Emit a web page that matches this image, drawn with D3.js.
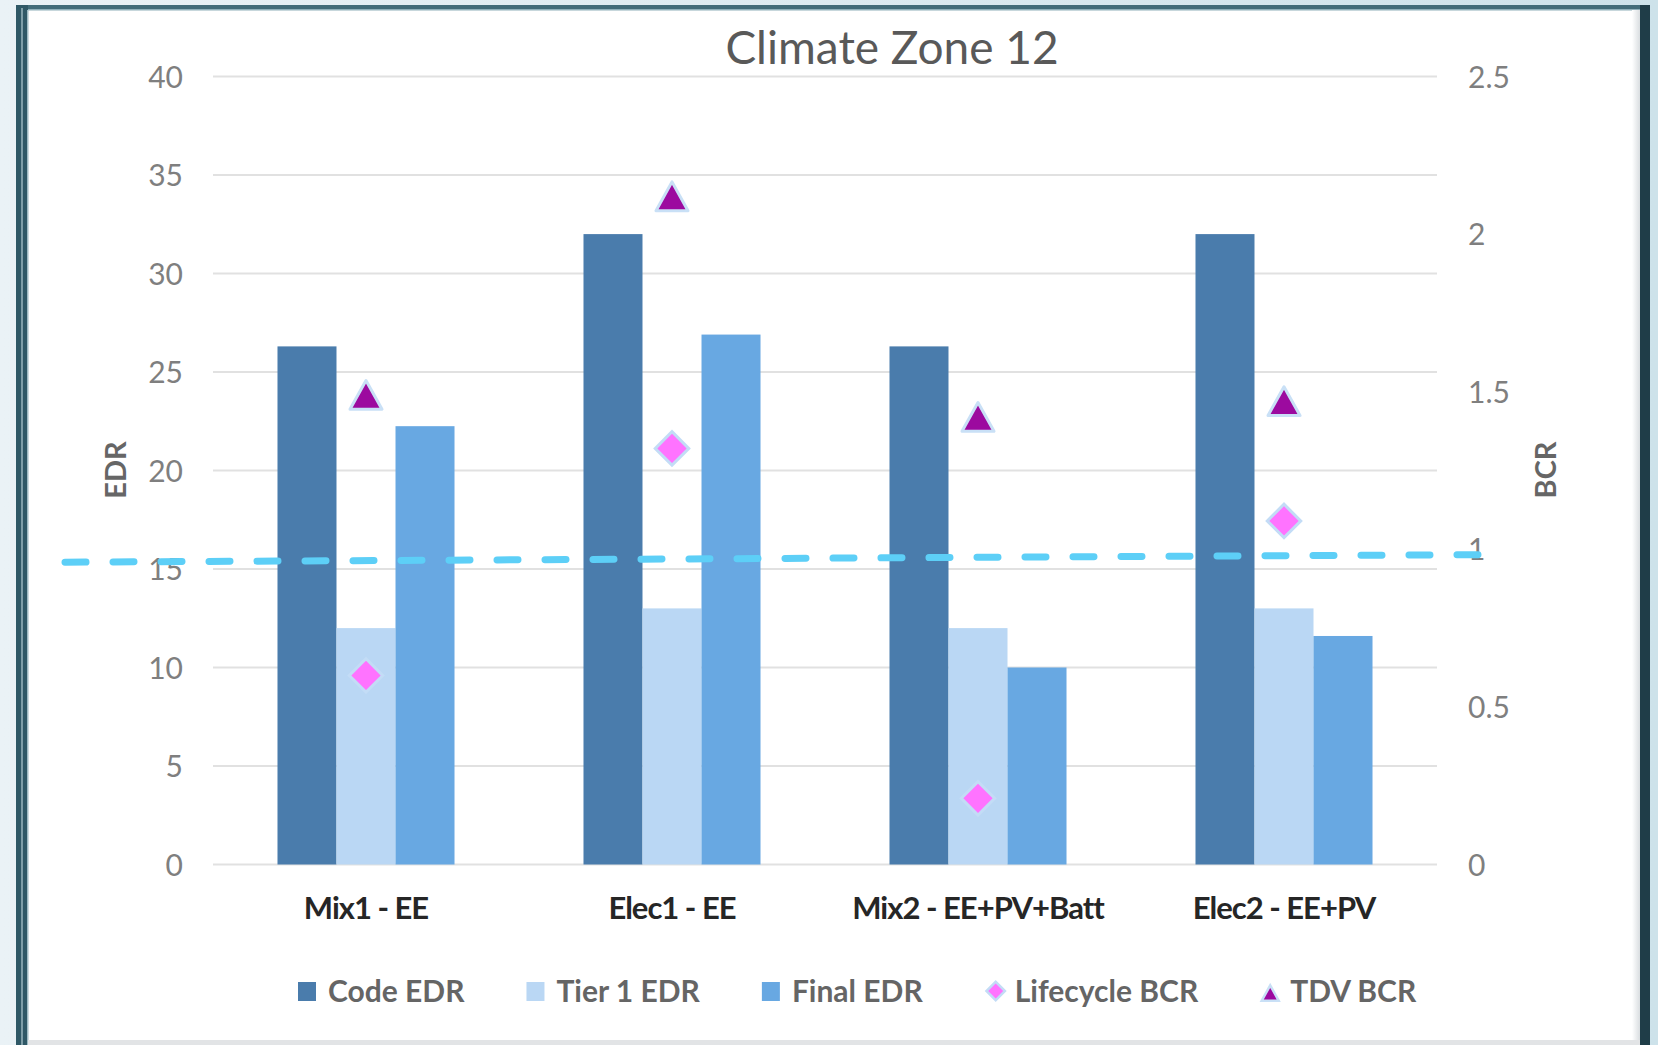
<!DOCTYPE html>
<html>
<head>
<meta charset="utf-8">
<script src="https://cdn.jsdelivr.net/npm/d3@7"></script>
<style>
  html, body { margin: 0; padding: 0; background: #e4eef2; }
  svg { display: block; }
</style>
</head>
<body>
<svg id="chart" width="1658" height="1045"></svg>
<script>
// ---------- data ----------
const categories = ["Mix1 - EE", "Elec1 - EE", "Mix2 - EE+PV+Batt", "Elec2 - EE+PV"];
const seriesNames = ["Code EDR", "Tier 1 EDR", "Final EDR"];
const codeEDR = [26.3, 32.0, 26.3, 32.0];
const tier1EDR = [12.0, 13.0, 12.0, 13.0];
const finalEDR = [22.25, 26.9, 10.0, 11.6];
const lifecycleBCR = [0.60, 1.32, 0.21, 1.09];
const tdvBCR = [1.49, 2.12, 1.42, 1.47];
const edrTicks = [0, 5, 10, 15, 20, 25, 30, 35, 40];
const bcrTicks = [0, 0.5, 1, 1.5, 2, 2.5];
const bcrTickLabels = ["0", "0.5", "1", "1.5", "2", "2.5"];
const thresholdBCR = [0.959, 0.983]; // hand-drawn dashed line (left end, right end)
const title = "Climate Zone 12";

const colors = {
  "Code EDR": "#4a7cac",
  "Tier 1 EDR": "#bad7f4",
  "Final EDR": "#68a8e2",
  "Lifecycle BCR": "#ff73ff",
  "TDV BCR": "#9c0a9f"
};

// ---------- layout ----------
const svg = d3.select("#chart");
const W = 1658, H = 1045;
const plot = { left: 213, right: 1437, top: 76.5, bottom: 864.5 };
const font = "Lato, 'Open Sans', sans-serif";

// background & frame
const defs = svg.append("defs");
const bg = defs.append("linearGradient").attr("id", "bg").attr("x1", 0).attr("x2", 1).attr("y1", 0).attr("y2", 0);
bg.append("stop").attr("offset", "0%").attr("stop-color", "#eaf2f6");
bg.append("stop").attr("offset", "100%").attr("stop-color", "#cde2ea");
svg.append("rect").attr("width", W).attr("height", H).attr("fill", "url(#bg)");

// card
svg.append("rect").attr("x", 20).attr("y", 8).attr("width", 1626).attr("height", 1033).attr("fill", "#ffffff");
// top border
svg.append("rect").attr("x", 16).attr("y", 5).attr("width", 1634).attr("height", 5).attr("fill", "#426c79");
svg.append("rect").attr("x", 16).attr("y", 9).attr("width", 1624).attr("height", 1.5).attr("fill", "#8fb0ba");
// left border
svg.append("rect").attr("x", 16).attr("y", 5).attr("width", 12).attr("height", 1040).attr("fill", "#2f5866");
svg.append("rect").attr("x", 21).attr("y", 8).attr("width", 2).attr("height", 1037).attr("fill", "#7e9ea8");
svg.append("rect").attr("x", 27).attr("y", 10).attr("width", 1.5).attr("height", 1035).attr("fill", "#9dbac2");
// right border
const rg = defs.append("linearGradient").attr("id", "rshade").attr("x1", 0).attr("x2", 1);
rg.append("stop").attr("offset", "0%").attr("stop-color", "#ffffff");
rg.append("stop").attr("offset", "100%").attr("stop-color", "#d9dde0");
svg.append("rect").attr("x", 1632).attr("y", 10).attr("width", 8).attr("height", 1035).attr("fill", "url(#rshade)");
svg.append("rect").attr("x", 1640).attr("y", 5).attr("width", 10).attr("height", 1040).attr("fill", "#1f3d48");
// bottom shadow
svg.append("rect").attr("x", 28).attr("y", 1040).attr("width", 1612).attr("height", 5).attr("fill", "#e2e4e6");

// ---------- scales ----------
const x = d3.scaleBand().domain(categories).range([plot.left, plot.right]).paddingInner(0).paddingOuter(0);
const xSub = d3.scaleBand().domain(seriesNames).range([0, x.bandwidth()]).paddingInner(0).paddingOuter(1.093);
const yEDR = d3.scaleLinear().domain([0, 40]).range([plot.bottom, plot.top]);
const yBCR = d3.scaleLinear().domain([0, 2.5]).range([plot.bottom, plot.top]);

// gridlines
svg.append("g").selectAll("line").data(edrTicks).join("line")
  .attr("x1", plot.left).attr("x2", plot.right)
  .attr("y1", d => yEDR(d)).attr("y2", d => yEDR(d))
  .attr("stroke", "#e1e1e1").attr("stroke-width", 2);

// left axis
const leftAxis = svg.append("g").attr("transform", `translate(${plot.left},0)`)
  .call(d3.axisLeft(yEDR).tickValues(edrTicks).tickSize(0).tickPadding(30).tickFormat(d3.format("d")));
leftAxis.select(".domain").remove();
leftAxis.selectAll("text").attr("font-family", font).attr("font-size", 30).attr("fill", "#7f7f7f").attr("dy", "0.35em");

// right axis
const rightAxis = svg.append("g").attr("transform", `translate(${plot.right},0)`)
  .call(d3.axisRight(yBCR).tickValues(bcrTicks).tickSize(0).tickPadding(31).tickFormat((d, i) => bcrTickLabels[i]));
rightAxis.select(".domain").remove();
rightAxis.selectAll("text").attr("font-family", font).attr("font-size", 30).attr("fill", "#7f7f7f").attr("dy", "0.35em");

// bars
const barData = categories.map((c, i) => ({
  cat: c,
  vals: [
    { s: "Code EDR", v: codeEDR[i] },
    { s: "Tier 1 EDR", v: tier1EDR[i] },
    { s: "Final EDR", v: finalEDR[i] }
  ]
}));
const groups = svg.append("g").selectAll("g").data(barData).join("g")
  .attr("transform", d => `translate(${x(d.cat)},0)`);
groups.selectAll("rect").data(d => d.vals).join("rect")
  .attr("x", d => xSub(d.s))
  .attr("width", xSub.bandwidth())
  .attr("y", d => yEDR(d.v))
  .attr("height", d => yEDR(0) - yEDR(d.v))
  .attr("fill", d => colors[d.s]);

// x axis labels
const bottomAxis = svg.append("g").attr("transform", `translate(0,${plot.bottom})`)
  .call(d3.axisBottom(x).tickSize(0).tickPadding(32));
bottomAxis.select(".domain").remove();
bottomAxis.selectAll("text").attr("font-family", font).attr("font-size", 31).attr("font-weight", "bold")
  .attr("fill", "#262626").attr("letter-spacing", "-1px");

// dashed threshold line (hand drawn, extends beyond plot)
const lineData = [
  { px: plot.left - 148, b: thresholdBCR[0] },
  { px: plot.right + 44, b: thresholdBCR[1] }
];
svg.append("path")
  .datum(lineData)
  .attr("d", d3.line().x(d => d.px).y(d => yBCR(d.b)))
  .attr("fill", "none").attr("stroke", "#5dcff7").attr("stroke-width", 7)
  .attr("stroke-linecap", "round").attr("stroke-dasharray", "21 27");

// markers
const cx = c => x(c) + x.bandwidth() / 2;
function triPath(s) {
  const h = s * 0.9;
  return `M0,${-h / 2}L${s / 2},${h / 2}L${-s / 2},${h / 2}Z`;
}
const mk = svg.append("g");
mk.selectAll("path.tdv").data(categories).join("path").attr("class", "tdv")
  .attr("d", triPath(32))
  .attr("transform", (c, i) => `translate(${cx(c)},${yBCR(tdvBCR[i])})`)
  .attr("fill", colors["TDV BCR"]).attr("stroke", "#c9e0f6").attr("stroke-width", 3).attr("stroke-linejoin", "round");
mk.selectAll("path.lc").data(categories).join("path").attr("class", "lc")
  .attr("d", d3.symbol().type(d3.symbolSquare).size(560)())
  .attr("transform", (c, i) => `translate(${cx(c)},${yBCR(lifecycleBCR[i])}) rotate(45)`)
  .attr("fill", colors["Lifecycle BCR"]).attr("stroke", "#c3dcf6").attr("stroke-width", 3);

// title
svg.append("text").attr("x", 892).attr("y", 64).attr("text-anchor", "middle")
  .attr("font-family", font).attr("font-size", 46).attr("fill", "#595959").text(title);

// axis titles
svg.append("text").attr("transform", "translate(126,470) rotate(-90)").attr("text-anchor", "middle")
  .attr("font-family", font).attr("font-size", 29).attr("font-weight", "bold").attr("fill", "#666666").text("EDR");
svg.append("text").attr("transform", "translate(1556,470) rotate(-90)").attr("text-anchor", "middle")
  .attr("font-family", font).attr("font-size", 29).attr("font-weight", "bold").attr("fill", "#666666").text("BCR");

// legend
const legendItems = ["Code EDR", "Tier 1 EDR", "Final EDR", "Lifecycle BCR", "TDV BCR"];
const legend = svg.append("g");
let lx = 298;
const ly = 991;
legendItems.forEach((name, i) => {
  const g = legend.append("g").attr("transform", `translate(${lx},${ly})`);
  if (i < 3) {
    g.append("rect").attr("x", 0).attr("y", -9).attr("width", 18).attr("height", 19).attr("fill", colors[name]);
  } else if (i === 3) {
    g.append("path").attr("d", d3.symbol().type(d3.symbolSquare).size(170)())
      .attr("transform", "translate(11,0) rotate(45)")
      .attr("fill", colors[name]).attr("stroke", "#c3dcf6").attr("stroke-width", 2.5);
  } else {
    g.append("path").attr("d", triPath(17)).attr("transform", "translate(10,2)")
      .attr("fill", colors[name]).attr("stroke", "#c9e0f6").attr("stroke-width", 2.5);
  }
  const t = g.append("text").attr("x", 30).attr("y", 0).attr("dy", "0.35em")
    .attr("font-family", font).attr("font-size", 30).attr("font-weight", "bold")
    .attr("fill", "#656565").text(name);
  const w = t.node().getComputedTextLength();
  lx += 30 + w + 62;
});
</script>
</body>
</html>
